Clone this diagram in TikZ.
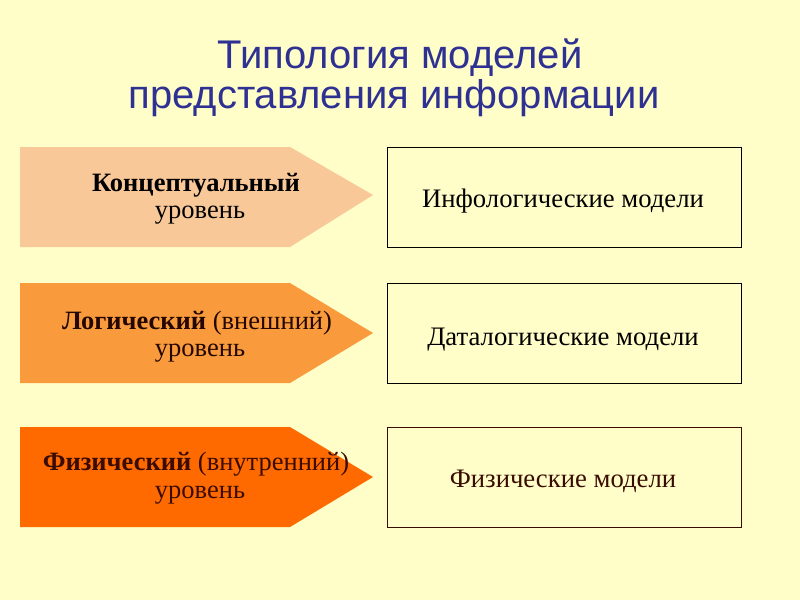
\documentclass[tikz,border=0pt]{standalone}
\usepackage{fontspec}
\setmainfont{Liberation Serif}
\newfontfamily\titlefont{Liberation Sans}
\definecolor{bgc}{HTML}{FFFDC8}
\definecolor{titlec}{HTML}{2E3192}
\definecolor{arrA}{HTML}{F9C898}
\definecolor{arrB}{HTML}{F99B3C}
\definecolor{arrC}{HTML}{FF6A00}
\definecolor{brownC}{HTML}{3A0C00}
\tikzset{
  lvltext/.style={anchor=base, inner sep=0pt, font=\fontsize{26.5}{30}\selectfont},
  modelbox/.style={draw, line width=1.3pt, minimum width=354pt, minimum height=100pt, anchor=north west, inner sep=0pt},
  boxtext/.style={anchor=base, inner sep=0pt, font=\fontsize{26.7}{30}\selectfont},
  titletext/.style={anchor=base, inner sep=0pt, text=titlec, font=\titlefont\fontsize{40}{42}\selectfont}
}
\begin{document}
\begin{tikzpicture}[x=1pt,y=-1pt]
\fill[bgc] (0,0) rectangle (800,600);
\useasboundingbox (0,0) rectangle (800,600);
% title
\node[titletext] (t1) at (400,68) {Типология моделей};
\node[titletext] (t2) at (394,108) {представления информации};
% arrows
\fill[arrA] (20,147) -- (290,147) -- (373,195) -- (290,247) -- (20,247) -- cycle;
\fill[arrB] (20,283) -- (290,283) -- (373,333) -- (290,383) -- (20,383) -- cycle;
\fill[arrC] (20,427) -- (290,427) -- (373,477) -- (290,527) -- (20,527) -- cycle;
% arrow texts
\node[lvltext] (c1a) at (196,191) {\textbf{Концептуальный}};
\node[lvltext] (c1b) at (200,218) {уровень};
\node[lvltext, text=brownC!60!black] (c2a) at (197,329) {\textbf{Логический} (внешний)};
\node[lvltext, text=brownC!60!black] (c2b) at (200,356) {уровень};
\node[lvltext, text=brownC] (c3a) at (196,470) {\textbf{Физический} (внутренний)};
\node[lvltext, text=brownC] (c3b) at (200,498) {уровень};
% boxes
\node[modelbox] (b1) at (387,147) {};
\node[modelbox] (b2) at (387,283) {};
\node[modelbox, draw=brownC] (b3) at (387,427) {};
\node[boxtext] (m1) at (563,207) {Инфологические модели};
\node[boxtext] (m2) at (563,345) {Даталогические модели};
\node[boxtext, text=brownC] (m3) at (563,487) {Физические модели};
\end{tikzpicture}
\end{document}
